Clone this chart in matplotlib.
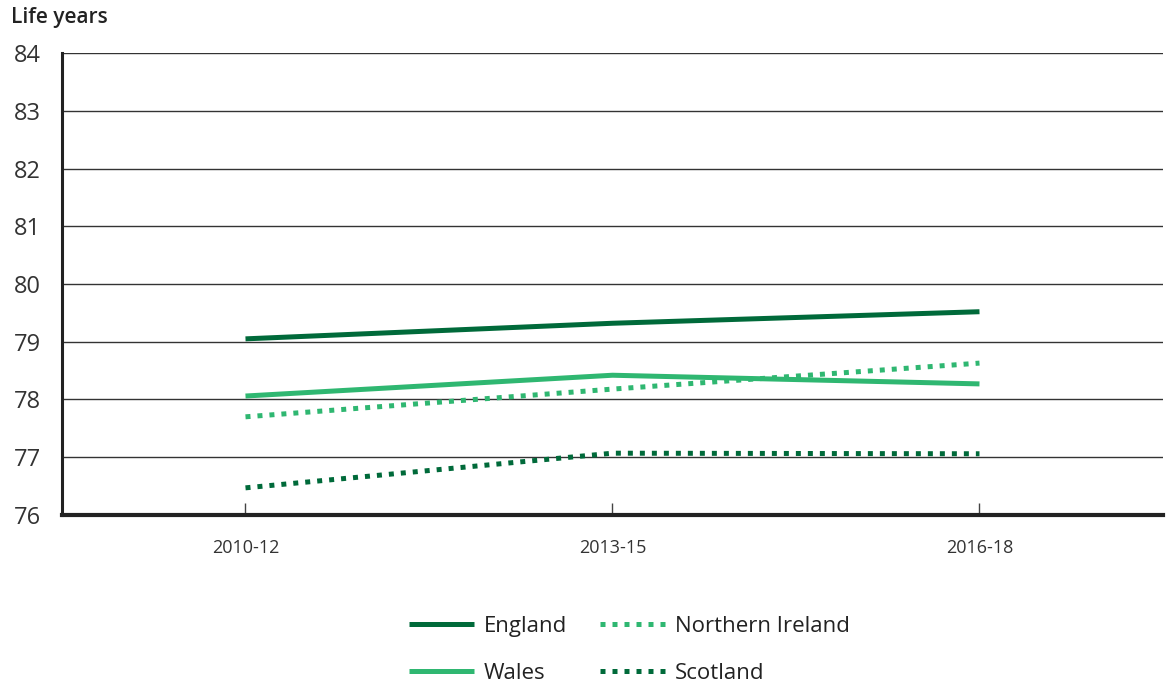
import matplotlib.pyplot as plt

periods = ["2010-12", "2013-15", "2016-18"]
england = [79.05, 79.32, 79.52]
wales = [78.06, 78.42, 78.27]
northern_ireland = [77.70, 78.18, 78.63]
scotland = [76.47, 77.07, 77.06]
y_ticks = [76, 77, 78, 79, 80, 81, 82, 83, 84]

dark = "#006a3a"
light = "#2fb771"

plt.rcParams['font.family'] = ['Open Sans', 'DejaVu Sans']

fig = plt.figure(figsize=(11.72, 6.84), dpi=100)
ax = fig.add_axes([0.0529, 0.2471, 0.9394, 0.6754])

x = range(len(periods))
lw = 3.6
dots = (0, (1.0, 1.4))
ax.plot(x, england, color=dark, lw=lw, solid_capstyle="butt", label="England")
ax.plot(x, wales, color=light, lw=lw, solid_capstyle="butt", label="Wales")
ax.plot(x, northern_ireland, color=light, lw=lw, ls=dots, dash_capstyle="butt",
        label="Northern Ireland")
ax.plot(x, scotland, color=dark, lw=lw, ls=dots, dash_capstyle="butt", label="Scotland")

ax.set_xlim(-0.5, 2.5)
ax.set_ylim(76, 84)
ax.set_yticks(y_ticks)
ax.set_yticklabels([str(v) for v in y_ticks], fontsize=17, color="#333333")
ax.tick_params(axis="y", length=0, pad=15)
ax.set_xticks(list(x))
ax.set_xticklabels(periods, fontsize=13, color="#333333")
ax.tick_params(axis="x", direction="in", length=9, width=1, color="#444444", pad=17)

ax.grid(axis="y", color="#333333", lw=1)
ax.set_axisbelow(True)
for s in ["top", "right"]:
    ax.spines[s].set_visible(False)
ax.spines["left"].set_linewidth(2.2)
ax.spines["left"].set_color("#222222")
ax.spines["bottom"].set_linewidth(3)
ax.spines["bottom"].set_color("#222222")

fig.text(0.009, 0.974, "Life years", fontsize=15, fontweight="semibold",
         color="#222222", va="center")

handles, labels = ax.get_legend_handles_labels()
leg = fig.legend(handles, labels, ncol=2, loc="center", bbox_to_anchor=(0.537, 0.05),
                 frameon=False, fontsize=16, handlelength=2.9, columnspacing=1.5,
                 labelspacing=1.15, handletextpad=0.45)
for t in leg.get_texts():
    t.set_color("#222222")
    t.set_fontweight("medium")

fig.savefig("out.png", dpi=100)
